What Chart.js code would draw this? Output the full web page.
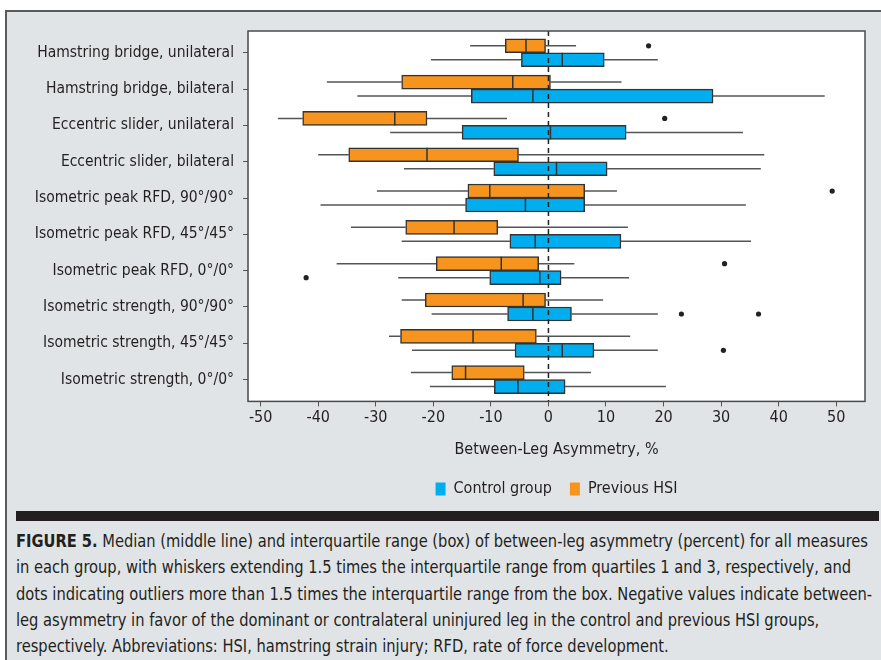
<!DOCTYPE html>
<html>
<head>
<meta charset="utf-8">
<script src="https://cdn.jsdelivr.net/npm/chart.js@4.4.1/dist/chart.umd.min.js"></script>
<style>
  html, body { margin: 0; padding: 0; background: #ffffff; }
  body { width: 881px; height: 660px; position: relative; overflow: hidden; }
  #panel {
    position: absolute; left: 5px; top: 10px; width: 880px; height: 660px;
    background: #e1e4e7; border-top: 2px solid #5a5a5a; border-left: 2px solid #5a5a5a;
  }
  #wrap { position: absolute; left: 0; top: 0; width: 881px; height: 507px; }
  #bar { position: absolute; left: 16px; top: 511px; width: 863px; height: 10px; background: #231f20; }
  #caption {
    position: absolute; left: 16px; top: 528px;
    font-family: 'DejaVu Sans Condensed', 'Liberation Sans Narrow', sans-serif;
    font-size: 18px; line-height: 26.3px; color: #231f20;
    transform-origin: 0 0;
  }
  #caption div { white-space: nowrap; }
  #caption b { font-weight: bold; }
</style>
</head>
<body>
<div id="panel"></div>
<div id="wrap"><canvas id="chart"></canvas></div>
<div id="bar"></div>
<div id="caption">
  <div id="cap1"><b>FIGURE 5.</b> Median (middle line) and interquartile range (box) of between-leg asymmetry (percent) for all measures</div>
  <div>in each group, with whiskers extending 1.5 times the interquartile range from quartiles 1 and 3, respectively, and</div>
  <div>dots indicating outliers more than 1.5 times the interquartile range from the box. Negative values indicate between-</div>
  <div>leg asymmetry in favor of the dominant or contralateral uninjured leg in the control and previous HSI groups,</div>
  <div>respectively. Abbreviations: HSI, hamstring strain injury; RFD, rate of force development.</div>
</div>
<script>
var FONT = "'DejaVu Sans Condensed', 'Liberation Sans Narrow', sans-serif";

var categories = [
    'Hamstring bridge, unilateral',
    'Hamstring bridge, bilateral',
    'Eccentric slider, unilateral',
    'Eccentric slider, bilateral',
    'Isometric peak RFD, 90\u00b0/90\u00b0',
    'Isometric peak RFD, 45\u00b0/45\u00b0',
    'Isometric peak RFD, 0\u00b0/0\u00b0',
    'Isometric strength, 90\u00b0/90\u00b0',
    'Isometric strength, 45\u00b0/45\u00b0',
    'Isometric strength, 0\u00b0/0\u00b0'
];

// Previous HSI group
var hsiLow = [-13.6, -38.5, -47.0, -40.0, -29.8, -34.3, -36.8, -25.5, -27.7, -23.9];
var hsiQ1  = [-7.5, -25.5, -42.7, -34.7, -14.0, -24.8, -19.5, -21.4, -25.7, -16.8];
var hsiMed = [-3.9, -6.2, -26.7, -21.1, -10.2, -16.4, -8.2, -4.4, -13.1, -14.4];
var hsiQ3  = [-0.5, 0.35, -21.1, -5.2, 6.3, -8.8, -1.7, -0.5, -2.1, -4.2];
var hsiHigh = [4.8, 12.7, -7.2, 37.5, 11.9, 13.8, 4.5, 9.5, 14.2, 7.4];
var hsiOutliers = [[17.4], [], [20.2], [], [49.3], [], [30.6], [], [], []];

// Control group
var ctrlLow = [-20.4, -33.2, -27.5, -25.1, -39.6, -25.5, -26.1, -20.3, -23.7, -20.6];
var ctrlQ1  = [-4.7, -13.4, -15.0, -9.5, -14.4, -6.7, -10.2, -7.1, -5.8, -9.4];
var ctrlMed = [2.4, -2.7, 0.35, 1.4, -4.0, -2.3, -1.5, -2.7, 2.4, -5.3];
var ctrlQ3  = [9.7, 28.6, 13.5, 10.2, 6.3, 12.6, 2.2, 4.0, 7.9, 2.9];
var ctrlHigh = [19.0, 48.0, 33.8, 36.9, 34.3, 35.2, 14.0, 19.0, 19.0, 20.4];
var ctrlOutliers = [[], [], [], [], [], [], [-42.1], [23.1, 36.5], [30.4], []];

var xTicks = [-50, -40, -30, -20, -10, 0, 10, 20, 30, 40, 50];

var groups = [
    { label: 'Previous HSI', color: '#f7941d', low: hsiLow, q1: hsiQ1, med: hsiMed, q3: hsiQ3, high: hsiHigh, out: hsiOutliers },
    { label: 'Control group', color: '#00aeef', low: ctrlLow, q1: ctrlQ1, med: ctrlMed, q3: ctrlQ3, high: ctrlHigh, out: ctrlOutliers }
];

// squeeze the caption so its first line fills the width, like the condensed print face
(function() {
    var cap = document.getElementById('caption');
    var w = document.getElementById('cap1').scrollWidth;
    cap.style.transform = 'scaleX(' + (856 / w) + ')';
})();

function boxData(g) {
    return categories.map(function(c, i) { return { y: i, x: [g.q1[i], g.q3[i]] }; });
}

// draws plot background, frame, whiskers, medians, outliers and the zero line
var boxPlugin = {
    id: 'boxExtras',
    beforeDatasetsDraw: function(chart) {
        var ctx = chart.ctx, a = chart.chartArea, xs = chart.scales.x;
        ctx.save();
        ctx.fillStyle = '#ffffff';
        ctx.fillRect(a.left, a.top, a.right - a.left, a.bottom - a.top);
        ctx.strokeStyle = '#555555';
        ctx.lineWidth = 1.5;
        groups.forEach(function(g, d) {
            var meta = chart.getDatasetMeta(d);
            meta.data.forEach(function(el, i) {
                ctx.beginPath();
                ctx.moveTo(xs.getPixelForValue(g.low[i]), el.y);
                ctx.lineTo(xs.getPixelForValue(g.q1[i]), el.y);
                ctx.moveTo(xs.getPixelForValue(g.q3[i]), el.y);
                ctx.lineTo(xs.getPixelForValue(g.high[i]), el.y);
                ctx.stroke();
            });
        });
        ctx.restore();
    },
    afterDatasetsDraw: function(chart) {
        var ctx = chart.ctx, a = chart.chartArea, xs = chart.scales.x;
        ctx.save();
        groups.forEach(function(g, d) {
            var meta = chart.getDatasetMeta(d);
            meta.data.forEach(function(el, i) {
                var h = el.height / 2;
                var mx = xs.getPixelForValue(g.med[i]);
                ctx.strokeStyle = '#333333';
                ctx.lineWidth = 1.5;
                ctx.beginPath();
                ctx.moveTo(mx, el.y - h);
                ctx.lineTo(mx, el.y + h);
                ctx.stroke();
                ctx.fillStyle = '#222222';
                g.out[i].forEach(function(v) {
                    ctx.beginPath();
                    ctx.arc(xs.getPixelForValue(v), el.y, 2.6, 0, Math.PI * 2);
                    ctx.fill();
                });
            });
        });
        var zx = xs.getPixelForValue(0);
        ctx.strokeStyle = '#222222';
        ctx.lineWidth = 1.5;
        ctx.setLineDash([5, 4]);
        ctx.beginPath();
        ctx.moveTo(zx, a.top);
        ctx.lineTo(zx, a.bottom);
        ctx.stroke();
        ctx.setLineDash([]);
        ctx.strokeStyle = '#4a4a4a';
        ctx.lineWidth = 1.5;
        ctx.strokeRect(a.left, a.top, a.right - a.left, a.bottom - a.top);
        ctx.restore();
    }
};

var ctx = document.getElementById('chart').getContext('2d');

new Chart(ctx, {
    type: 'bar',
    data: {
        datasets: groups.map(function(g) {
            return {
                label: g.label,
                data: boxData(g),
                backgroundColor: g.color,
                borderColor: '#333333',
                borderWidth: 1.5,
                borderSkipped: false,
                barThickness: 14
            };
        })
    },
    options: {
        indexAxis: 'y',
        responsive: true,
        maintainAspectRatio: false,
        animation: false,
        layout: { padding: { top: 31, right: 16, left: 0, bottom: 0 } },
        plugins: {
            legend: {
                position: 'bottom',
                fullSize: false,
                reverse: true,
                labels: {
                    boxWidth: 10,
                    boxHeight: 13,
                    padding: 18,
                    color: '#231f20',
                    font: { family: FONT, size: 16 },
                    generateLabels: function(chart) {
                        var items = Chart.defaults.plugins.legend.labels.generateLabels(chart);
                        return items.map(function(it) {
                            it.lineWidth = 0;
                            it.strokeStyle = 'rgba(0,0,0,0)';
                            return it;
                        });
                    }
                }
            },
            tooltip: { enabled: false }
        },
        scales: {
            x: {
                type: 'linear',
                min: -52.2,
                max: 55.0,
                grid: { drawOnChartArea: false, drawTicks: true, tickLength: 5, color: '#555555' },
                border: { display: false },
                afterBuildTicks: function(scale) {
                    scale.ticks = xTicks.map(function(v) { return { value: v }; });
                },
                afterFit: function(scale) { scale.height = 61.6; },
                ticks: {
                    padding: 2,
                    color: '#231f20',
                    font: { family: FONT, size: 16 }
                },
                title: {
                    display: true,
                    text: 'Between-Leg Asymmetry, %',
                    color: '#231f20',
                    padding: { top: 0, bottom: 4 },
                    font: { family: FONT, size: 16 }
                }
            },
            y: {
                type: 'linear',
                reverse: true,
                offset: false,
                min: -0.6,
                max: 9.6,
                grid: { offset: false, drawOnChartArea: false, drawTicks: true, tickLength: 5, color: '#555555' },
                border: { display: false },
                afterBuildTicks: function(scale) {
                    scale.ticks = categories.map(function(c, i) { return { value: i }; });
                },
                afterFit: function(scale) { scale.width = 248; },
                ticks: {
                    padding: 9,
                    color: '#231f20',
                    font: { family: FONT, size: 15.5 },
                    callback: function(v) { return categories[v]; }
                }
            }
        }
    },
    plugins: [boxPlugin]
});
</script>
</body>
</html>
